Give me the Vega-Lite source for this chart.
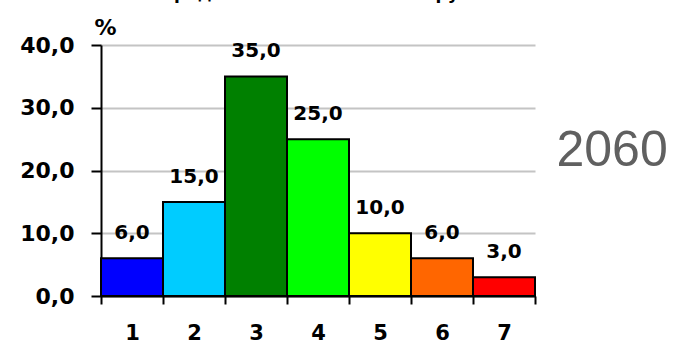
{
  "$schema": "https://vega.github.io/schema/vega-lite/v6.json",
  "width": 434,
  "height": 251,
  "autosize": {"type": "none"},
  "padding": {"left": 101, "top": 45, "right": 152, "bottom": 48},
  "background": "white",
  "title": {
    "text": "Распределение населения по группам",
    "anchor": "middle",
    "frame": "group",
    "baseline": "alphabetic",
    "offset": 0,
    "font": "DejaVu Sans",
    "fontSize": 17,
    "fontWeight": "bold",
    "color": "black"
  },
  "config": {
    "view": {"stroke": null},
    "locale": {
      "number": {"decimal": ",", "thousands": " ", "grouping": [3], "currency": ["", ""]}
    }
  },
  "data": {
    "values": [
      {"group": "1", "share": 6.0},
      {"group": "2", "share": 15.0},
      {"group": "3", "share": 35.0},
      {"group": "4", "share": 25.0},
      {"group": "5", "share": 10.0},
      {"group": "6", "share": 6.0},
      {"group": "7", "share": 3.0}
    ]
  },
  "layer": [
    {
      "mark": {"type": "bar", "stroke": "black", "strokeWidth": 2, "opacity": 1},
      "encoding": {
        "x": {
          "field": "group",
          "type": "nominal",
          "sort": null,
          "scale": {"paddingInner": 0, "paddingOuter": 0},
          "axis": {
            "labelAngle": 0,
            "tickBand": "extent",
            "tickSize": 8,
            "tickWidth": 2,
            "tickColor": "black",
            "domainColor": "black",
            "domainWidth": 2,
            "labelFont": "DejaVu Sans",
            "labelFontSize": 21,
            "labelFontWeight": "bold",
            "labelColor": "black",
            "labelPadding": 18,
            "title": "2060",
            "titleFont": "Liberation Sans",
            "titleFontSize": 50,
            "titleFontWeight": "normal",
            "titleColor": "#606060",
            "titleAngle": 0,
            "titleAlign": "left",
            "titleBaseline": "alphabetic",
            "titleX": 455,
            "titleY": -131
          }
        },
        "y": {
          "field": "share",
          "type": "quantitative",
          "scale": {"domain": [0, 40], "nice": false, "zero": true},
          "axis": {
            "values": [0, 10, 20, 30, 40],
            "format": ".1f",
            "grid": true,
            "gridColor": "#c4c4c4",
            "gridWidth": 2,
            "tickSize": 10,
            "tickWidth": 2,
            "tickColor": "black",
            "domainColor": "black",
            "domainWidth": 2,
            "labelFont": "DejaVu Sans",
            "labelFontSize": 22,
            "labelFontWeight": "bold",
            "labelColor": "black",
            "labelPadding": 17,
            "title": "%",
            "titleFont": "DejaVu Sans",
            "titleFontSize": 22,
            "titleFontWeight": "bold",
            "titleColor": "black",
            "titleAngle": 0,
            "titleAlign": "center",
            "titleBaseline": "alphabetic",
            "titleX": 4,
            "titleY": -11
          }
        },
        "color": {
          "field": "group",
          "type": "nominal",
          "scale": {
            "domain": ["1", "2", "3", "4", "5", "6", "7"],
            "range": ["#0000ff", "#00ccff", "#008000", "#00ff00", "#ffff00", "#ff6600", "#ff0000"]
          },
          "legend": null
        }
      }
    },
    {
      "mark": {
        "type": "text",
        "baseline": "alphabetic",
        "align": "center",
        "dy": -19,
        "font": "DejaVu Sans",
        "fontSize": 20,
        "fontWeight": "bold",
        "color": "black"
      },
      "encoding": {
        "x": {"field": "group", "type": "nominal", "sort": null},
        "y": {"field": "share", "type": "quantitative"},
        "text": {"field": "share", "type": "quantitative", "format": ".1f"}
      }
    }
  ]
}
